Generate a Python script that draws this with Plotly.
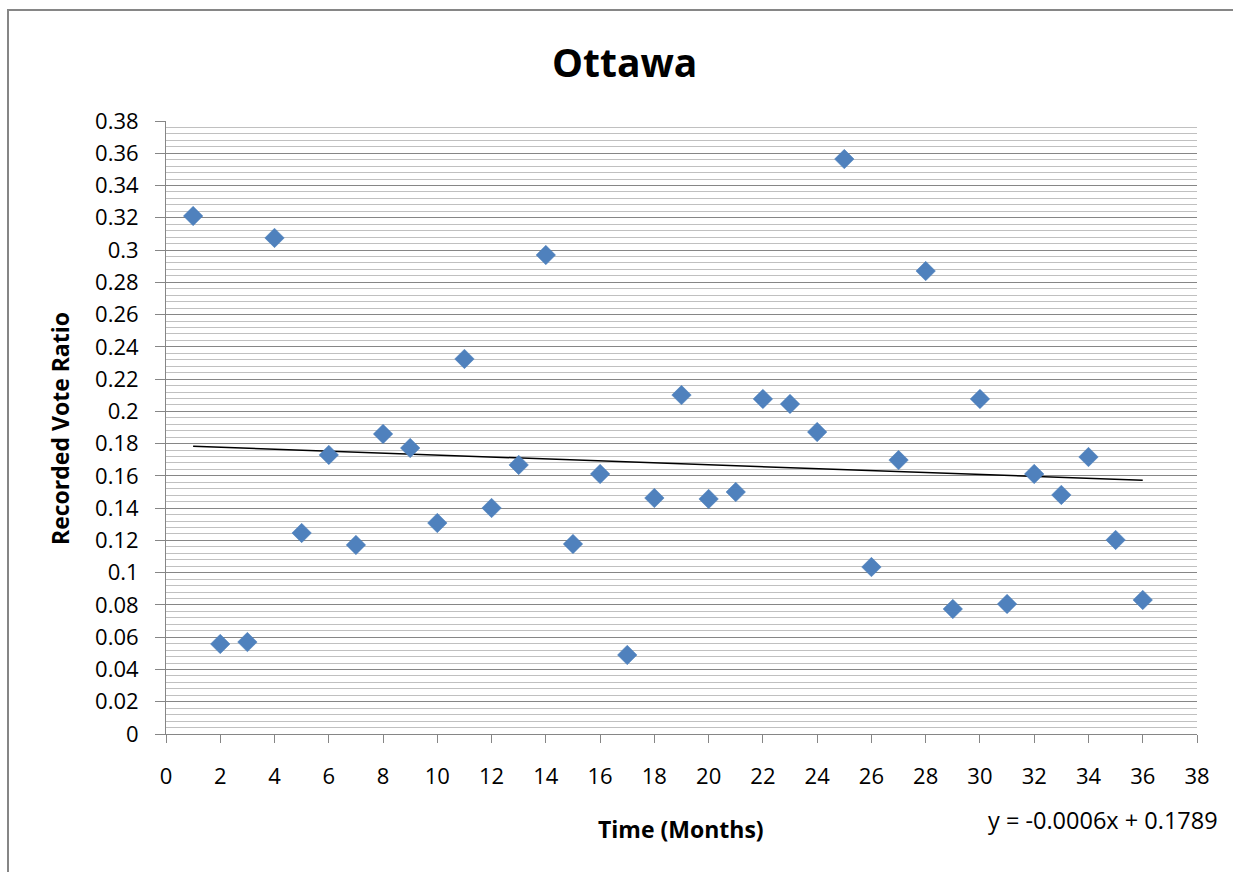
import plotly.graph_objects as go

# Monthly recorded vote ratio, Ottawa
months = list(range(1, 37))
vote_ratio = [
    0.3211, 0.0558, 0.0570, 0.3075, 0.1246, 0.1730, 0.1172, 0.1860, 0.1773, 0.1308,
    0.2325, 0.1401, 0.1668, 0.2969, 0.1178, 0.1612, 0.0490, 0.1463, 0.2101, 0.1457,
    0.1500, 0.2077, 0.2046, 0.1872, 0.3564, 0.1035, 0.1698, 0.2870, 0.0775, 0.2077,
    0.0806, 0.1612, 0.1482, 0.1717, 0.1203, 0.0831,
]

# Linear trend coefficients
trend_slope = -0.0006
trend_intercept = 0.1789

x_ticks = list(range(0, 40, 2))
y_tick_vals = [round(i * 0.02, 2) for i in range(20)]
y_tick_text = ["0", "0.02", "0.04", "0.06", "0.08", "0.1", "0.12", "0.14", "0.16", "0.18",
               "0.2", "0.22", "0.24", "0.26", "0.28", "0.3", "0.32", "0.34", "0.36", "0.38"]

FONT = "Open Sans"
AXIS_GRAY = "#868686"

fig = go.Figure()

trend_x = [months[0], months[-1]]
trend_y = [trend_slope * v + trend_intercept for v in trend_x]
fig.add_trace(go.Scatter(
    x=trend_x, y=trend_y, mode="lines",
    line=dict(color="black", width=1.5),
    hoverinfo="skip", showlegend=False,
))

fig.add_trace(go.Scatter(
    x=months, y=vote_ratio, mode="markers",
    marker=dict(symbol="diamond", size=15, color="#4F81BD",
                line=dict(color="#4A7EBB", width=0.5)),
    showlegend=False,
))

L, R, T, B = 166, 36, 121, 138
W, H = 1233, 872
pw = W - L - R
ph = H - T - B


def px_x(p):
    return (p - L) / pw


def px_y(p):
    return (H - B - p) / ph


fig.update_layout(
    width=W, height=H,
    margin=dict(l=L, r=R, t=T, b=B, pad=0),
    paper_bgcolor="white", plot_bgcolor="white",
    font=dict(family=FONT, color="black", size=22),
    showlegend=False,
    xaxis=dict(
        range=[0, 38], tickvals=x_ticks, ticktext=[str(v) for v in x_ticks],
        showgrid=False, zeroline=False,
        showline=True, linecolor=AXIS_GRAY, linewidth=1,
        ticks="outside", ticklen=8, tickcolor=AXIS_GRAY, tickwidth=1,
        ticklabelstandoff=15,
        tickfont=dict(family=FONT, size=22, color="black"),
    ),
    yaxis=dict(
        range=[0, 0.38], tickvals=y_tick_vals, ticktext=y_tick_text,
        showgrid=True, gridcolor=AXIS_GRAY, gridwidth=1,
        zeroline=False,
        showline=True, linecolor=AXIS_GRAY, linewidth=1,
        ticks="outside", ticklen=10, tickcolor=AXIS_GRAY, tickwidth=1,
        ticklabelstandoff=12,
        tickfont=dict(family=FONT, size=22, color="black"),
        minor=dict(dtick=0.004, showgrid=True, gridcolor="#C0C0C0", gridwidth=1, ticks=""),
    ),
    shapes=[
        dict(type="rect", xref="paper", yref="paper",
             x0=px_x(8), x1=px_x(1260), y0=px_y(900), y1=px_y(10),
             line=dict(color=AXIS_GRAY, width=2), fillcolor="rgba(0,0,0,0)", layer="below"),
    ],
    annotations=[
        dict(text="<b>Ottawa</b>", xref="paper", yref="paper",
             x=px_x(624), y=px_y(62), xanchor="center", yanchor="middle",
             showarrow=False, font=dict(family=FONT, size=39, color="black")),
        dict(text="<b>Time (Months)</b>", xref="paper", yref="paper",
             x=px_x(681), y=px_y(829), xanchor="center", yanchor="middle",
             showarrow=False, font=dict(family=FONT, size=23, color="black")),
        dict(text="<b>Recorded Vote Ratio</b>", xref="paper", yref="paper",
             x=px_x(60), y=px_y(429), xanchor="center", yanchor="middle",
             textangle=-90, showarrow=False,
             font=dict(family=FONT, size=23, color="black")),
        dict(text="y = -0.0006x + 0.1789", xref="paper", yref="paper",
             x=px_x(1103), y=px_y(820), xanchor="center", yanchor="middle",
             showarrow=False, font=dict(family=FONT, size=23.5, color="black")),
    ],
)

fig.write_html("out.html")
